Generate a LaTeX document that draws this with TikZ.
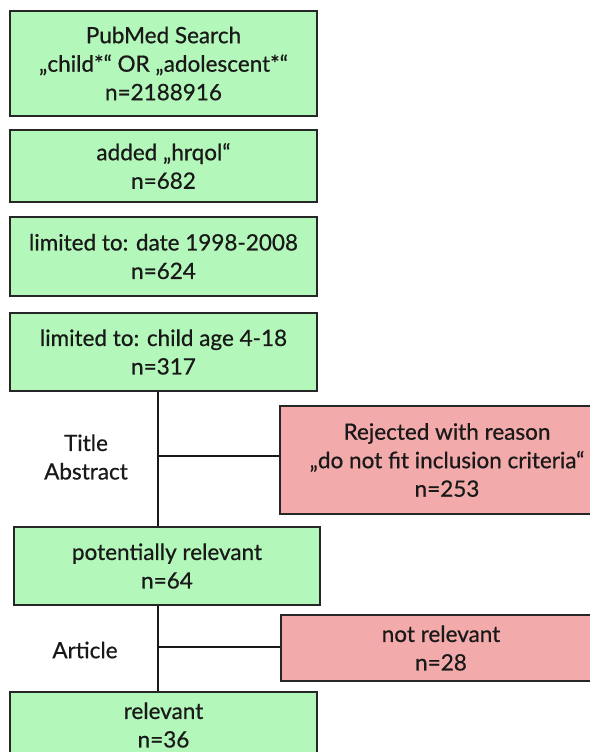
\documentclass[tikz,border=0pt]{standalone}
\usepackage{fontspec}
\setmainfont{Lato}[FakeBold=0.6]
\usetikzlibrary{positioning}
\definecolor{passgreen}{RGB}{180,247,186}
\definecolor{rejectred}{RGB}{242,170,170}
\begin{document}
\begin{tikzpicture}[x=1pt,y=-1pt,
    every node/.style={font=\fontsize{22.5}{28.5}\selectfont, text=black!90, align=center},
    stage/.style={draw=black!85, line width=2pt, fill=passgreen, inner sep=0pt, minimum width=307pt},
    reject/.style={stage, fill=rejectred},
    link/.style={draw=black!90, line width=2.2pt}]
  \useasboundingbox (0,0) rectangle (589,752);
  % search steps
  \node [stage, minimum height=105pt] (search) at (163.5,63.5) {PubMed Search\\„child*“ OR „adolescent*“\\n=2188916};
  \node [stage, minimum height=72pt] (hrqol) at (163.5,166) {added „hrqol“\\n=682};
  \node [stage, minimum height=79pt] (date) at (163.5,256.5) {limited to: date 1998-2008\\n=624};
  \node [stage, minimum height=78pt] (age) at (163.5,352) {limited to: child age 4-18\\n=317};
  % screening
  \node (screen) at (86,457) {Title\\Abstract};
  \node [reject, minimum width=334pt, minimum height=108pt] (rejected) at (447,460) {Rejected with reason\\„do not fit inclusion criteria“\\n=253};
  \node [stage, minimum width=306pt, minimum height=78pt] (potential) at (167,566) {potentially relevant\\n=64};
  \node (article) at (85,650) {Article};
  \node [reject, minimum width=320pt, minimum height=66pt] (notrel) at (441,648) {not relevant\\n=28};
  \node [stage, minimum height=66pt] (relevant) at (163.5,725) {relevant\\n=36};
  \coordinate (split1) at (158,456);
  \coordinate (split2) at (158,647);
  \draw [link] (age.south -| split1) -- (potential.north -| split1);
  \draw [link] (split1) -- (split1 -| rejected.west);
  \draw [link] (potential.south -| split2) -- (relevant.north -| split2);
  \draw [link] (split2) -- (split2 -| notrel.west);
\end{tikzpicture}
\end{document}
